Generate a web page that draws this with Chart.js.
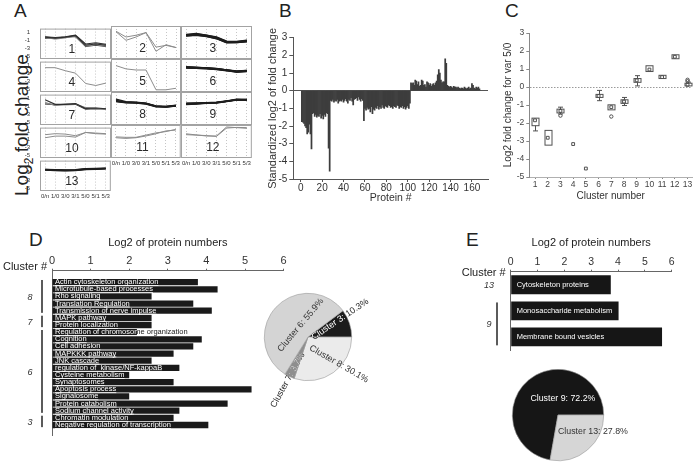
<!DOCTYPE html>
<html>
<head>
<meta charset="utf-8">
<script src="https://cdn.jsdelivr.net/npm/chart.js@4.4.1/dist/chart.umd.min.js"></script>
<style>
  html, body { margin: 0; padding: 0; background: #fff; }
  #fig { position: relative; width: 697px; height: 462px; overflow: hidden; font-family: 'Liberation Sans', Arial, sans-serif; color: #222; }
  #fig canvas { position: absolute; }
  .letter { position: absolute; font-size: 19px; line-height: 1; }
  .ylabel-a { position: absolute; font-size: 19px; line-height: 1; white-space: nowrap; transform-origin: left top; transform: rotate(-90deg); }
  .ylabel-a sub { font-size: 12px; }
</style>
</head>
<body>
<div id="fig">
  <div class="letter" style="left:14px; top:1px;">A</div>
  <div class="letter" style="left:279px; top:1px;">B</div>
  <div class="letter" style="left:505px; top:1px;">C</div>
  <div class="letter" style="left:29px; top:230px;">D</div>
  <div class="letter" style="left:466px; top:230px;">E</div>
  <div class="ylabel-a" style="left:12px; top:196px;">Log<sub>2</sub> fold change</div>
</div>
<script>
// ---------- data ----------

// A: expression profiles of each cluster
const timeLabels = ['0/n', '1/0', '3/0', '3/1', '5/0', '5/1', '5/3'];
const profileTicks = [1, -1, -3, -5];

const cluster1 = [
    [-0.2, -0.45, -0.2, 0.15, -2.2, -1.9, -2.2],
    [-0.4, -0.6, -0.3, 0.0, -2.4, -2.1, -2.4],
    [-0.1, -0.3, -0.1, 0.3, -1.9, -1.6, -2.0],
    [-0.3, -0.7, -0.4, 0.1, -2.1, -1.8, -2.3],
    [-0.5, -0.5, -0.25, -0.05, -2.5, -2.2, -2.5]
];
const cluster2 = [
    [0.7, -0.6, -0.2, 0.4, -3.85, -2.35, -3.0],
    [0.6, -1.35, -0.6, 0.4, -2.9, -2.5, -3.0]
];
const cluster3 = [
    [-0.2, 0.0, -0.35, -0.8, -1.75, -1.75, -1.5],
    [-0.1, 0.1, -0.2, -0.7, -1.6, -1.65, -1.4],
    [-0.35, -0.15, -0.5, -0.95, -1.9, -1.9, -1.7],
    [-0.25, 0.05, -0.3, -0.85, -1.8, -1.8, -1.55],
    [0.0, 0.2, -0.15, -0.6, -1.55, -1.6, -1.3],
    [-0.4, -0.2, -0.45, -1.0, -1.95, -1.85, -1.65]
];
const cluster4 = [
    [0.4, 0.4, -0.35, -0.95, -3.5, -4.0, -3.4]
];
const cluster5 = [
    [0.4, -0.35, -0.6, -0.6, -5.1, -5.1, -4.75]
];
const cluster6 = [
    [0.0, -0.1, -0.2, -0.35, -0.65, -0.95, -0.8],
    [0.1, 0.0, -0.1, -0.25, -0.55, -0.85, -0.7],
    [-0.1, -0.2, -0.3, -0.45, -0.75, -1.05, -0.9],
    [0.05, -0.05, -0.15, -0.3, -0.6, -0.9, -0.75],
    [-0.05, -0.15, -0.25, -0.4, -0.7, -1.0, -0.85],
    [0.15, 0.05, -0.1, -0.3, -0.55, -0.8, -0.7],
    [-0.15, -0.2, -0.35, -0.5, -0.8, -1.1, -0.95]
];
const cluster7 = [
    [0.6, -0.5, -0.5, -0.3, -1.5, -1.4, -1.6],
    [-0.2, -0.7, -0.4, -0.4, -1.3, -1.5, -1.65],
    [-0.4, -0.6, -0.6, -0.5, -1.7, -1.6, -1.7],
    [0.0, -0.8, -0.5, -0.35, -1.45, -1.45, -1.55]
];
const cluster8 = [
    [-0.15, -0.45, -0.5, -0.75, -1.35, -1.45, -1.2],
    [0.3, -0.3, -0.4, -0.65, -1.25, -1.35, -1.1],
    [-0.3, -0.55, -0.6, -0.85, -1.45, -1.55, -1.3],
    [0.0, -0.4, -0.45, -0.7, -1.3, -1.5, -1.25],
    [-0.25, -0.5, -0.55, -0.8, -1.4, -1.4, -1.15],
    [-0.1, -0.35, -0.5, -0.7, -1.3, -1.5, -1.3]
];
const cluster9 = [
    [-0.8, -0.75, -0.6, -0.5, -0.2, 0.15, 0.1],
    [-0.65, -0.6, -0.5, -0.4, -0.1, 0.25, 0.2],
    [-0.95, -0.85, -0.7, -0.6, -0.3, 0.05, 0.0],
    [-0.7, -0.7, -0.55, -0.45, -0.15, 0.2, 0.15],
    [-0.9, -0.8, -0.65, -0.55, -0.25, 0.1, 0.05],
    [-0.75, -0.65, -0.6, -0.5, -0.2, 0.1, 0.2]
];
const cluster10 = [
    [0.15, 0.4, 0.3, -0.1, 0.7, 0.55, 0.4],
    [-0.6, -0.2, -0.2, -0.45, 0.7, 0.4, 0.3]
];
const cluster11 = [
    [-1.0, -1.15, -1.0, -0.6, -0.1, 0.55, 0.75],
    [-0.8, -0.9, -0.9, -0.4, 0.1, 0.4, 0.9]
];
const cluster12 = [
    [-0.1, -0.35, -0.6, -0.6, 1.45, 1.3, 1.15],
    [-0.3, -0.4, -0.5, -0.7, 1.2, 1.35, 1.3]
];
const cluster13 = [
    [-0.35, -0.45, -0.5, -0.45, -0.2, -0.15, -0.05],
    [-0.25, -0.35, -0.4, -0.35, -0.1, -0.05, 0.05],
    [-0.45, -0.55, -0.6, -0.55, -0.3, -0.25, -0.15],
    [-0.3, -0.4, -0.45, -0.4, -0.15, -0.1, 0.0],
    [-0.4, -0.5, -0.55, -0.5, -0.25, -0.2, -0.1]
];
const clusterProfiles = [cluster1, cluster2, cluster3, cluster4, cluster5, cluster6, cluster7,
    cluster8, cluster9, cluster10, cluster11, cluster12, cluster13];

// B: standardized log2 fold change per protein (protein # 1..167)
const proteinValues = [
    -1.75, -1.78, -1.85, -2.0, -2.1, -2.45, -2.35, -1.9, -2.45, -3.3,
    -1.3, -1.25, -1.45, -1.35, -1.5, -1.4, -1.45, -1.3, -1.55, -1.4,
    -1.6, -1.35, -1.45, -1.25, -1.3, -3.25, -4.55, -0.55, -0.6, -0.5,
    -0.65, -0.55, -0.6, -0.5, -0.7, -0.6, -0.55, -0.6, -0.5, -0.65,
    -0.55, -0.45, -0.6, -0.7, -0.5, -0.55, -0.4, -0.6, -0.8, -0.5,
    -0.45, -0.4, -0.55, -0.35, -0.5, -0.6, -0.45, -0.55, -1.7, -1.0,
    -1.1, -0.95, -1.05, -1.0, -1.2, -0.9, -1.3, -1.05, -1.1, -0.95,
    -1.0, -0.85, -1.05, -0.9, -1.0, -0.8, -0.95, -1.0, -0.85, -0.9,
    -0.95, -0.8, -0.85, -0.95, -0.9, -1.0, -0.85, -0.9, -0.95, -0.8,
    -0.85, -1.0, -0.9, -0.95, -0.85, -1.0, -0.9, -1.05, -0.95, -0.85,
    -1.0, -0.7, 0.45, 0.4, 0.45, 0.3, 0.6, 0.55, 0.35, 0.5,
    0.25, 0.3, 0.6, 0.55, 0.3, 0.35, 0.2, 0.5, 0.45, 0.3,
    0.4, 0.25, 0.35, 0.4, 0.3, 0.45, 0.55, 0.9, 1.2, 1.0,
    0.6, 0.45, 0.5, 0.5, 1.8, 1.55, 0.3, 0.25, 0.2, 0.25,
    0.2, 0.15, 0.25, 0.2, 0.2, 0.15, 0.2, 0.15, 0.1, 0.15,
    0.15, 0.1, 0.2, 0.15, 0.1, 0.15, 0.2, 0.1, 0.15, 0.4,
    0.3, 0.15, 0.1, 0.2, 0.15, 0.2, 0.1
];
const proteinTicks = [0, 20, 40, 60, 80, 100, 120, 140, 160];

// C: log2 fold change for var 5/0, per cluster
const clusterNumbers = [1, 2, 3, 4, 5, 6, 7, 8, 9, 10, 11, 12, 13];
const boxLow =      [-2.15, -3.23, -1.44, -3.17, -4.53, -0.58, -1.27, -0.91, 0.26, 0.86, 0.47, 1.57, 0.06];
const boxHigh =     [-1.73, -2.41, -1.23, -3.17, -4.53, -0.41, -0.99, -0.71, 0.47, 1.18, 0.65, 1.79, 0.21];
const boxMedian =   [-1.85, -2.82, -1.33, -3.17, -4.53, -0.5, -1.12, -0.81, 0.37, 0.97, 0.55, 1.68, 0.12];
const whiskerLow =  [-2.44, -3.23, -1.5, -3.17, -4.53, -0.76, -1.27, -1.03, 0.06, 0.86, 0.45, 1.57, 0.04];
const whiskerHigh = [-1.73, -2.41, -1.12, -3.17, -4.53, -0.19, -0.99, -0.58, 0.63, 1.18, 0.67, 1.79, 0.27];
const outlierCluster = [3, 7, 13, 13];
const outlierValue = [-1.59, -1.64, 0.32, 0.4];

// D: GO terms, clusters 8, 7, 6, 3
const goTermsD = [
    'Actin cytoskeleton organization', 'Microtubule-based processes', 'Rho signaling',
    'Translation Regulation', 'Transmission of nerve impulse', 'MAPK pathway',
    'Protein localization', 'Regulation of chromosome organization', 'Cognition',
    'Cell adhesion', 'MAPKKK pathway', 'JNK cascade', 'regulation of  kinase/NF-kappaB',
    'Cysteine metabolism', 'Synaptosomes', 'Apoptosis process', 'Signalosome',
    'Protein catabolism', 'Sodium channel activity', 'Chromatin modulation',
    'Negative regulation of transcription'
];
const goLog2D = [3.78, 4.29, 2.58, 3.66, 4.14, 2.58, 2.58, 2.2, 3.88, 3.66, 3.15,
    2.58, 3.3, 2.0, 3.15, 5.17, 2.0, 4.55, 3.3, 3.15, 4.05];
const groupLabelsD = ['8', '7', '6', '3'];
const groupStartD = [0, 5, 7, 19];
const groupEndD = [4, 6, 18, 20];
const pieLabelsD = ['Cluster 3', 'Cluster 8', 'Cluster 7', 'Cluster 6'];
const pieValuesD = [10.3, 30.1, 3.7, 55.9];

// E: GO terms, clusters 13 and 9
const goTermsE = ['Cytoskeleton proteins', 'Monosaccharide metabolism', 'Membrane bound vesicles'];
const goLog2E = [3.73, 4.02, 5.64];
const groupLabelsE = ['13', '9'];
const groupStartE = [0, 1];
const groupEndE = [0, 2];
const pieLabelsE = ['Cluster 9', 'Cluster 13'];
const pieValuesE = [72.2, 27.8];

// ---------- setup ----------
const FONT = "'Liberation Sans', Arial, sans-serif";
Chart.defaults.font.family = FONT;
Chart.defaults.color = '#222';
Chart.defaults.animation = false;
Chart.defaults.responsive = false;
Chart.defaults.devicePixelRatio = 1;
Chart.defaults.events = [];
Chart.defaults.plugins.legend.display = false;
Chart.defaults.plugins.tooltip.enabled = false;

function makeCanvas(left, top, width, height) {
    const c = document.createElement('canvas');
    c.width = width;
    c.height = height;
    c.style.left = left + 'px';
    c.style.top = top + 'px';
    c.style.width = width + 'px';
    c.style.height = height + 'px';
    document.getElementById('fig').appendChild(c);
    return c;
}

// ---------- A: small multiples ----------
const aColLeft = [40, 111, 181];
const aColWidth = [71, 70, 71];
const aRowTop = [26, 59, 92, 125, 158];
const aRowHeight = 33;
const heavyClusters = [3, 6, 8, 9, 13];
const mixedClusters = [1, 7];

const profileFrame = {
    id: 'profileFrame',
    afterDraw(chart, args, opts) {
        const { ctx, chartArea: a } = chart;
        ctx.save();
        ctx.strokeStyle = '#a3a3a3';
        ctx.lineWidth = 1;
        ctx.strokeRect(a.left + 0.5, a.top + 0.5, a.right - a.left - 1, a.bottom - a.top - 1);
        ctx.fillStyle = '#2a2a2a';
        ctx.font = '12px ' + FONT;
        ctx.textAlign = 'center';
        ctx.textBaseline = 'middle';
        ctx.fillText(opts.label, a.left + (a.right - a.left) * 0.45, a.top + (a.bottom - a.top) * 0.69);
        ctx.restore();
    }
};

function profileLineStyle(n, i) {
    if (heavyClusters.includes(n)) return { color: '#1e1e1e', width: 1.3 };
    if (mixedClusters.includes(n)) return i % 2 === 0 ? { color: '#2e2e2e', width: 1.1 } : { color: '#8e8e8e', width: 1 };
    return { color: '#8c8c8c', width: 1 };
}

function drawProfile(idx) {
    const n = idx + 1;
    const col = idx % 3;
    const row = Math.floor(idx / 3);
    const showY = col === 0;
    const showX = n >= 11;
    const fl = aColLeft[col], ft = aRowTop[row], fw = aColWidth[col];
    const canvas = makeCanvas(fl - 16, ft - 3, fw + 17, aRowHeight + 14);

    new Chart(canvas, {
        type: 'line',
        data: {
            labels: timeLabels,
            datasets: clusterProfiles[idx].map((vals, i) => {
                const st = profileLineStyle(n, i);
                return { data: vals, borderColor: st.color, borderWidth: st.width, pointRadius: 0, tension: 0 };
            })
        },
        options: {
            layout: { padding: { top: 3, right: 1, left: 0, bottom: 0 } },
            scales: {
                x: {
                    offset: true,
                    grid: { color: '#c6c6c6', drawTicks: false },
                    border: { display: false, dash: [1, 2] },
                    ticks: { display: showX, font: { size: 6 }, color: '#333', maxRotation: 0, autoSkip: false, padding: 2 },
                    afterFit: s => { s.height = 11; }
                },
                y: {
                    min: -5.6,
                    max: 1.9,
                    grid: { display: false },
                    border: { display: false },
                    afterBuildTicks: s => { s.ticks = profileTicks.map(v => ({ value: v })); },
                    ticks: { display: showY, font: { size: 6 }, color: '#333', padding: 2, autoSkip: false },
                    afterFit: s => { s.width = 16; }
                }
            },
            plugins: { profileFrame: { label: String(n) } }
        },
        plugins: [profileFrame]
    });
}

clusterProfiles.forEach((_, i) => drawProfile(i));

// ---------- B: standardized fold change per protein ----------
new Chart(makeCanvas(255, 25, 240, 179), {
    type: 'bar',
    data: {
        datasets: [{
            data: proteinValues.map((v, i) => ({ x: i + 1, y: v })),
            backgroundColor: '#3d3d3d',
            barPercentage: 1,
            categoryPercentage: 1
        }]
    },
    options: {
        layout: { padding: { top: 12.7, right: 7 } },
        scales: {
            x: {
                type: 'linear',
                offset: false,
                min: -7,
                max: 175,
                afterBuildTicks: s => { s.ticks = proteinTicks.map(v => ({ value: v })); },
                grid: { offset: false, drawOnChartArea: false, color: '#555', tickLength: 3 },
                border: { color: '#555' },
                ticks: { font: { size: 10 }, color: '#333', padding: 0, autoSkip: false, maxRotation: 0 },
                title: { display: true, text: 'Protein #', font: { size: 10.5 }, color: '#333', padding: { top: 0, bottom: 0 } },
                afterFit: s => { s.height = 25; }
            },
            y: {
                min: -5,
                max: 3,
                ticks: { stepSize: 1, font: { size: 10 }, color: '#333', padding: 2 },
                grid: { color: c => (c.tick && c.tick.value === 0 ? '#555' : 'rgba(0,0,0,0)'), tickColor: '#555', tickLength: 4 },
                border: { color: '#555' },
                title: { display: true, text: 'Standardized log2 of fold change', font: { size: 11 }, color: '#333', padding: { top: 11.4, bottom: 0 } },
                afterFit: s => { s.width = 38.3; }
            }
        }
    }
});

// ---------- C: box plots per cluster ----------
const clusterBoxes = {
    id: 'clusterBoxes',
    beforeDatasetsDraw(chart) {
        const { ctx, scales: { x, y } } = chart;
        ctx.save();
        ctx.strokeStyle = '#505050';
        ctx.lineWidth = 1;
        clusterNumbers.forEach((c, i) => {
            const px = Math.round(x.getPixelForValue(c)) + 0.5;
            const yLo = y.getPixelForValue(boxLow[i]);
            const yHi = y.getPixelForValue(boxHigh[i]);
            const wLo = y.getPixelForValue(whiskerLow[i]);
            const wHi = y.getPixelForValue(whiskerHigh[i]);
            ctx.beginPath();
            if (wLo > yLo + 0.5) {
                ctx.moveTo(px, yLo); ctx.lineTo(px, wLo);
                ctx.moveTo(px - 2.5, wLo); ctx.lineTo(px + 2.5, wLo);
            }
            if (wHi < yHi - 0.5) {
                ctx.moveTo(px, yHi); ctx.lineTo(px, wHi);
                ctx.moveTo(px - 2.5, wHi); ctx.lineTo(px + 2.5, wHi);
            }
            ctx.stroke();
            if (yLo - yHi > 0.5) ctx.strokeRect(px - 3.5, yHi, 7, yLo - yHi);
        });
        ctx.restore();
    }
};

new Chart(makeCanvas(495, 20, 202, 186), {
    type: 'scatter',
    data: {
        datasets: [
            {
                data: clusterNumbers.map((c, i) => ({ x: c, y: boxMedian[i] })),
                pointStyle: 'rect', pointRadius: 2, borderColor: '#505050', borderWidth: 1, backgroundColor: 'rgba(255,255,255,0)'
            },
            {
                data: outlierCluster.map((c, i) => ({ x: c, y: outlierValue[i] })),
                pointStyle: 'circle', pointRadius: 1.7, borderColor: '#505050', borderWidth: 1, backgroundColor: 'rgba(255,255,255,0)'
            }
        ]
    },
    options: {
        layout: { padding: { top: 13, right: 2 } },
        scales: {
            x: {
                type: 'linear',
                min: 0.55,
                max: 13.35,
                afterBuildTicks: s => { s.ticks = clusterNumbers.map(v => ({ value: v })); },
                grid: { drawOnChartArea: false, color: '#888', tickLength: 2 },
                border: { color: '#b0b0b0' },
                ticks: { font: { size: 8.5 }, color: '#444', padding: 1, autoSkip: false, maxRotation: 0 },
                title: { display: true, text: 'Cluster number', font: { size: 10 }, color: '#333', padding: { top: 0, bottom: 4 } },
                afterFit: s => { s.height = 29; }
            },
            y: {
                min: -5,
                max: 3,
                ticks: { stepSize: 1, font: { size: 8.5 }, color: '#444', padding: 2, autoSkip: false },
                grid: { color: c => (c.tick && c.tick.value === 0 ? '#9a9a9a' : 'rgba(0,0,0,0)'), tickColor: '#888', tickLength: 3 },
                border: { color: '#888', dash: [1.5, 1.5] },
                title: { display: true, text: 'Log2 fold change for var 5/0', font: { size: 10 }, color: '#333', padding: { top: 7, bottom: 0 } },
                afterFit: s => { s.width = 34.3; }
            }
        }
    },
    plugins: [clusterBoxes]
});

// ---------- D / E: GO term bars ----------
const goBarLabels = {
    id: 'goBarLabels',
    afterDatasetsDraw(chart, args, opts) {
        const { ctx, chartArea: a } = chart;
        const meta = chart.getDatasetMeta(0);
        ctx.save();
        ctx.font = opts.font;
        ctx.textBaseline = 'middle';
        meta.data.forEach((bar, i) => {
            const p = bar.getProps(['x', 'y', 'base', 'height']);
            const text = opts.labels[i];
            const tx = a.left + opts.inset;
            const w = ctx.measureText(text).width;
            const top = p.y - p.height / 2;
            // part outside the bar
            ctx.save();
            ctx.beginPath();
            ctx.rect(p.x, top - 4, chart.width, p.height + 8);
            ctx.clip();
            ctx.fillStyle = '#1a1a1a';
            ctx.fillText(text, tx, p.y);
            ctx.restore();
            // part inside the bar
            ctx.save();
            ctx.beginPath();
            ctx.rect(p.base, top - 4, p.x - p.base, p.height + 8);
            ctx.clip();
            ctx.fillStyle = '#fff';
            ctx.fillText(text, tx, p.y);
            if (opts.underline) {
                ctx.fillRect(tx, p.y + 3, w, 0.8);
            }
            ctx.restore();
        });

        // cluster brackets on the left
        ctx.fillStyle = '#333';
        ctx.font = 'italic 9px ' + FONT;
        ctx.textAlign = 'center';
        opts.groupLabels.forEach((lab, g) => {
            const first = meta.data[opts.groupStart[g]].getProps(['y', 'height']);
            const last = meta.data[opts.groupEnd[g]].getProps(['y', 'height']);
            const y0 = first.y - first.height / 2 + 1;
            const y1 = last.y + last.height / 2 - 1;
            ctx.fillText(lab, a.left - opts.labelOffset, (y0 + y1) / 2 + 1);
            if (opts.groupEnd[g] > opts.groupStart[g]) {
                ctx.fillRect(a.left - opts.lineOffset - 0.8, y0, 1.6, y1 - y0);
            }
        });

        // header
        ctx.font = '11px ' + FONT;
        ctx.fillStyle = '#222';
        ctx.textAlign = 'right';
        ctx.fillText('Cluster #', a.left - 5, a.top + opts.headerDy);
        ctx.restore();
    }
};

function topAxis(max, size) {
    return {
        position: 'top',
        min: 0,
        max: max,
        ticks: { stepSize: 1, font: { size: size }, color: '#333', padding: 1 },
        grid: { drawOnChartArea: false, color: '#666', tickLength: 2 },
        border: { color: '#666' },
        title: { display: true, text: 'Log2 of protein numbers', font: { size: 11 }, color: '#222', padding: { top: 7.4, bottom: 0 } }
    };
}

const axisD = topAxis(6, 11);
axisD.afterFit = s => { s.height = 41.7; };
new Chart(makeCanvas(0, 229, 292, 211), {
    type: 'bar',
    data: {
        datasets: [{
            data: goLog2D.map((v, i) => ({ x: v, y: i })),
            backgroundColor: '#1a1a1a',
            barPercentage: 0.88,
            categoryPercentage: 1
        }]
    },
    options: {
        indexAxis: 'y',
        layout: { padding: { top: 0, right: 8.4, bottom: 5, left: 0 } },
        scales: {
            x: axisD,
            y: {
                type: 'linear',
                offset: false,
                reverse: true,
                min: -1.6,
                max: 21.4,
                ticks: { display: false },
                grid: { display: false, offset: false },
                border: { color: '#666' },
                afterFit: s => { s.width = 52; }
            }
        },
        plugins: {
            goBarLabels: {
                labels: goTermsD, font: '7.5px ' + FONT, inset: 3, underline: true,
                groupLabels: groupLabelsD, groupStart: groupStartD, groupEnd: groupEndD,
                labelOffset: 22, lineOffset: 10, headerDy: -4
            }
        }
    },
    plugins: [goBarLabels]
});

const axisE = topAxis(6, 10.5);
axisE.afterFit = s => { s.height = 42.7; };
new Chart(makeCanvas(460, 229, 237, 128), {
    type: 'bar',
    data: {
        labels: goTermsE,
        datasets: [{
            data: goLog2E,
            backgroundColor: '#161616',
            barPercentage: 0.72,
            categoryPercentage: 1
        }]
    },
    options: {
        indexAxis: 'y',
        layout: { padding: { top: 0, right: 25.3, bottom: 7, left: 0 } },
        scales: {
            x: axisE,
            y: {
                ticks: { display: false },
                grid: { display: false },
                border: { color: '#666' },
                afterFit: s => { s.width = 50.7; }
            }
        },
        plugins: {
            goBarLabels: {
                labels: goTermsE, font: '7.5px ' + FONT, inset: 6, underline: false,
                groupLabels: groupLabelsE, groupStart: groupStartE, groupEnd: groupEndE,
                labelOffset: 21.7, lineOffset: 13.7, headerDy: 1
            }
        }
    },
    plugins: [goBarLabels]
});

// ---------- D / E: pies ----------
const pieLabels = {
    id: 'pieLabels',
    afterDatasetsDraw(chart, args, opts) {
        const { ctx } = chart;
        const meta = chart.getDatasetMeta(0);
        const labels = chart.data.labels;
        const values = chart.data.datasets[0].data;
        meta.data.forEach((arc, i) => {
            const p = arc.getProps(['x', 'y', 'startAngle', 'endAngle', 'outerRadius']);
            const mid = (p.startAngle + p.endAngle) / 2 + opts.shift[i] * Math.PI / 180;
            const r = p.outerRadius * opts.radius[i];
            const lx = p.x + Math.cos(mid) * r;
            const ly = p.y + Math.sin(mid) * r;
            const text = labels[i] + ': ' + values[i].toFixed(1) + '%';
            const draw = color => {
                ctx.save();
                ctx.translate(lx, ly);
                ctx.rotate(opts.rotation[i] * Math.PI / 180);
                ctx.font = opts.font;
                ctx.fillStyle = color;
                ctx.textAlign = 'center';
                ctx.textBaseline = 'middle';
                ctx.fillText(text, 0, 0);
                ctx.restore();
            };
            draw(opts.outsideColor[i]);
            if (opts.insideColor[i] !== opts.outsideColor[i]) {
                ctx.save();
                ctx.beginPath();
                ctx.moveTo(p.x, p.y);
                ctx.arc(p.x, p.y, p.outerRadius, p.startAngle, p.endAngle);
                ctx.closePath();
                ctx.clip();
                draw(opts.insideColor[i]);
                ctx.restore();
            }
        });
    }
};

new Chart(makeCanvas(240, 270, 150, 150), {
    type: 'pie',
    data: {
        labels: pieLabelsD,
        datasets: [{
            data: pieValuesD,
            backgroundColor: ['#1c1c1c', '#ebebeb', '#8e8e8e', '#d4d4d4'],
            borderColor: '#9a9a9a',
            borderWidth: 0.6
        }]
    },
    options: {
        rotation: 53,
        layout: { padding: { left: 24, top: 23, right: 38, bottom: 39 } },
        plugins: {
            pieLabels: {
                font: '9px ' + FONT,
                shift: [-10.5, -13, 0, 16],
                radius: [0.84, 0.94, 1.09, 0.32],
                rotation: [-34, 30, -61, -50],
                insideColor: ['#fff', '#333', '#e0e0e0', '#333'],
                outsideColor: ['#2a2a2a', '#333', '#2a2a2a', '#333']
            }
        }
    },
    plugins: [pieLabels]
});

new Chart(makeCanvas(490, 350, 150, 112), {
    type: 'pie',
    data: {
        labels: pieLabelsE,
        datasets: [{
            data: pieValuesE,
            backgroundColor: ['#161616', '#d6d6d6'],
            borderColor: '#9a9a9a',
            borderWidth: 0.6
        }]
    },
    options: {
        rotation: 190,
        layout: { padding: { left: 22, top: 19, right: 36, bottom: 1 } },
        plugins: {
            pieLabels: {
                font: '8.8px ' + FONT,
                shift: [56.4, -24],
                radius: [0.38, 0.85],
                rotation: [0, 0],
                insideColor: ['#fff', '#333'],
                outsideColor: ['#fff', '#333']
            }
        }
    },
    plugins: [pieLabels]
});
</script>
</body>
</html>
